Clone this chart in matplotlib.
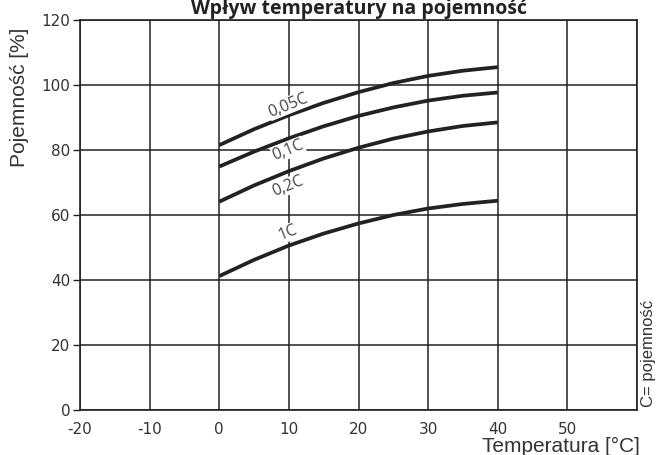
import numpy as np
import matplotlib
matplotlib.use("Agg")
import matplotlib.pyplot as plt

# temperatura [C] i pojemnosc [%]
temps = [0, 5, 10, 15, 20, 25, 30, 35, 40]
cap_005c = [81.5, 86.4, 90.7, 94.5, 97.8, 100.6, 102.8, 104.4, 105.5]
cap_01c = [74.9, 79.5, 83.6, 87.3, 90.5, 93.1, 95.2, 96.7, 97.7]
cap_02c = [64.1, 69.1, 73.5, 77.4, 80.7, 83.5, 85.7, 87.4, 88.5]
cap_1c = [41.2, 46.2, 50.6, 54.3, 57.4, 60.0, 62.0, 63.4, 64.4]

curve_labels = ["0,05C", "0,1C", "0,2C", "1C"]
label_pos = [(9.9, 93.8), (9.9, 80.0), (9.9, 68.9), (9.8, 54.5)]

x_ticks = [-20, -10, 0, 10, 20, 30, 40, 50]
y_ticks = [0, 20, 40, 60, 80, 100, 120]

dark = "#222222"

fig = plt.figure(figsize=(6.56, 4.55), dpi=100)
fig.patch.set_facecolor("white")
ax = fig.add_axes([80 / 656, 1 - 410 / 455, 557 / 656, 390 / 455])

ax.set_xlim(-20, 60)
ax.set_ylim(0, 120)
ax.set_xticks(np.arange(-20, 61, 10))
ax.set_xticklabels([str(t) for t in x_ticks] + [""])
ax.set_yticks(y_ticks)
ax.set_yticklabels([str(t) for t in y_ticks])
ax.tick_params(axis="x", length=0, pad=9, labelsize=11, labelcolor="#333333")
ax.tick_params(axis="y", length=5, width=1, color=dark, pad=2,
               labelsize=11, labelcolor="#333333")
ax.grid(True, color=dark, linewidth=1.1)
for s in ax.spines.values():
    s.set_color(dark)
    s.set_linewidth(1.2)

for ys in [cap_005c, cap_01c, cap_02c, cap_1c]:
    ax.plot(temps, ys, color=dark, linewidth=2.7, solid_capstyle="butt",
            solid_joinstyle="round")

for txt, (lx, ly) in zip(curve_labels, label_pos):
    ax.text(lx, ly, txt, rotation=22, ha="center", va="center",
            fontsize=11.5, color="#444444", family="Open Sans",
            bbox=dict(facecolor="white", edgecolor="none", pad=0.5))

# tytul w oryginale jest przyciety u gory, tu tuz pod krawedzia
fig.text(359 / 656, 1 - 14 / 455, "Wpływ temperatury na pojemność",
         ha="center", va="baseline", fontsize=14, fontweight="bold",
         color=dark, family="Open Sans")
fig.text(20 / 656, 1 - 97 / 455, "Pojemność [%]", rotation=90,
         ha="center", va="center", fontsize=15, color="#333333",
         family="Liberation Sans")
fig.text(640 / 656, 1 - 446 / 455, "Temperatura [°C]", ha="right",
         va="center", fontsize=15, color="#333333", family="Liberation Sans")
fig.text(648 / 656, 1 - 407 / 455, "C= pojemność", rotation=90,
         ha="center", va="bottom", fontsize=12, color="#333333",
         family="Liberation Sans")

fig.savefig("out.png", dpi=100)
